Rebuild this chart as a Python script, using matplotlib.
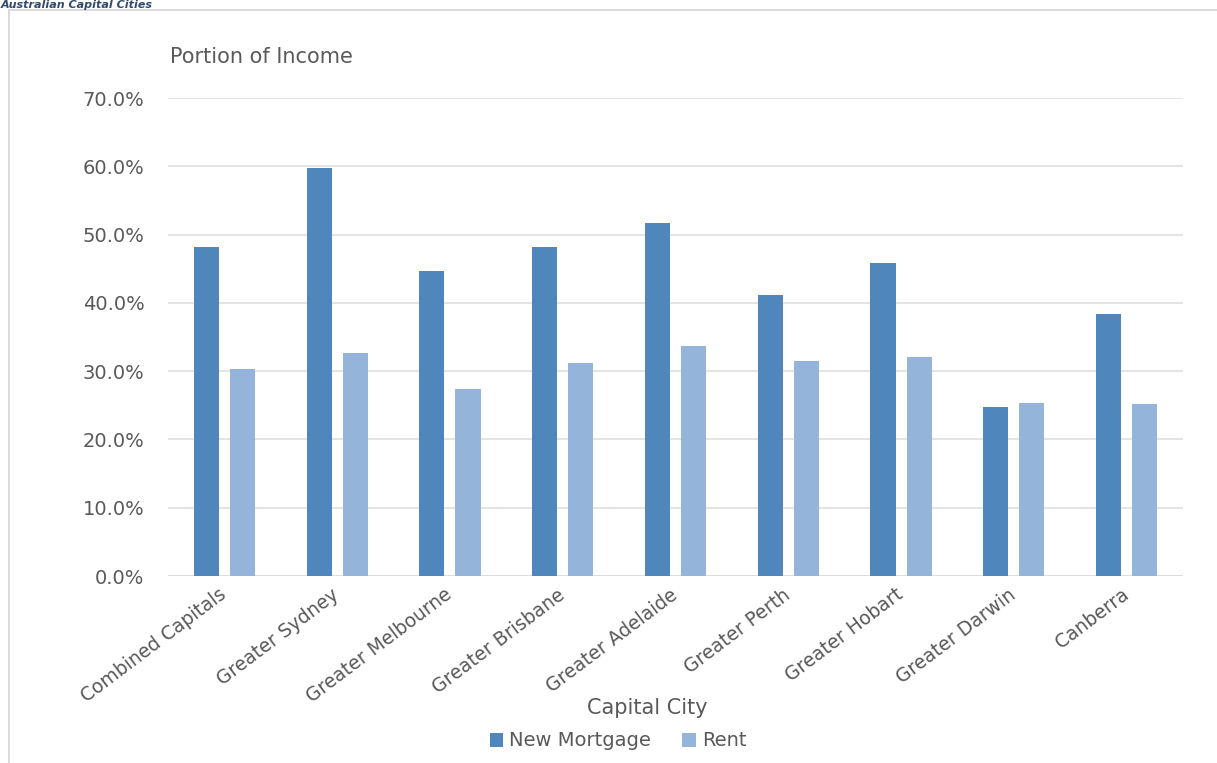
import matplotlib
matplotlib.use("Agg")
import matplotlib.pyplot as plt
import numpy as np
from matplotlib.patches import Rectangle
from matplotlib.ticker import FuncFormatter

cities = ["Combined Capitals", "Greater Sydney", "Greater Melbourne",
          "Greater Brisbane", "Greater Adelaide", "Greater Perth",
          "Greater Hobart", "Greater Darwin", "Canberra"]
new_mortgage = [48.2, 59.7, 44.6, 48.2, 51.7, 41.1, 45.9, 24.8, 38.4]
rent = [30.3, 32.6, 27.4, 31.2, 33.7, 31.5, 32.1, 25.3, 25.2]
series_names = ["New Mortgage", "Rent"]
yticks = [0, 10, 20, 30, 40, 50, 60, 70]

W, H = 1217, 763
TEXT = "#595959"
GRID = "#DCDCDC"
C_MORT = "#4F86BC"
C_RENT = "#95B4DA"

plt.rcParams["font.family"] = ["DejaVu Sans"]

fig = plt.figure(figsize=(W / 100, H / 100), dpi=100)
fig.patch.set_facecolor("white")

# chart frame
fig.patches.append(Rectangle((9 / W, -0.05), 1.2, (H - 10) / H + 0.05,
                             transform=fig.transFigure, fill=False,
                             edgecolor="#D4D4D4", linewidth=1.2))

# heading sitting above the frame
fig.text(1 / W, 1 - 8 / H, "Australian Capital Cities", ha="left",
         va="baseline", fontsize=8, fontweight="bold", style="italic",
         color="#2F4A6D")

ax = fig.add_axes([168 / W, 1 - 576 / H, (1183 - 168) / W, (576 - 98) / H])
x = np.arange(len(cities))
bw = 0.222
off = 0.16
ax.bar(x - off, new_mortgage, width=bw, color=C_MORT, label=series_names[0], zorder=3)
ax.bar(x + off, rent, width=bw, color=C_RENT, label=series_names[1], zorder=3)

ax.set_xlim(-0.5, len(cities) - 0.5)
ax.set_ylim(0, 70)
ax.set_yticks(yticks)
ax.yaxis.set_major_formatter(FuncFormatter(lambda v, p: f"{v:.1f}%"))
ax.grid(axis="y", color=GRID, linewidth=1.1, zorder=0)
for s in ax.spines.values():
    s.set_visible(False)
ax.axhline(0, color=GRID, linewidth=1.1, zorder=2)
ax.tick_params(axis="both", length=0, colors=TEXT, labelsize=14)
ax.tick_params(axis="y", pad=17)
ax.set_xticks(x)
ax.set_xticklabels(cities, rotation=37, ha="right", va="center",
                   rotation_mode="anchor", fontsize=13.5, color=TEXT)
ax.tick_params(axis="x", pad=12)
for lbl in ax.get_xticklabels():
    lbl.set_x(lbl.get_position()[0])

fig.text(170 / W, 1 - 57 / H, "Portion of Income", ha="left", va="center",
         fontsize=15, color=TEXT)
fig.text(647 / W, 1 - 708 / H, "Capital City", ha="center", va="center",
         fontsize=15, color=TEXT)

handles, labels = ax.get_legend_handles_labels()
fig.legend(handles, labels, loc="center", bbox_to_anchor=(618 / W, 1 - 741 / H),
           ncol=2, frameon=False, fontsize=14, labelcolor=TEXT,
           handlelength=0.7, handleheight=0.7, handletextpad=0.3,
           columnspacing=1.6)

fig.savefig("out.png", dpi=100, facecolor="white")
